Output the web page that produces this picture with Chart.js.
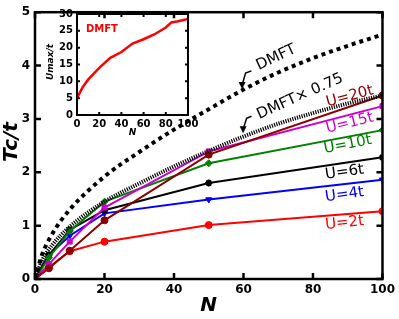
<!DOCTYPE html>
<html>
<head>
<meta charset="utf-8">
<script src="https://cdn.jsdelivr.net/npm/chart.js@4.4.0/dist/chart.umd.min.js"></script>
<style>
  html, body { margin: 0; padding: 0; background: #fff; }
  #wrap { position: relative; width: 399px; height: 319px; }
  #main { position: absolute; left: 0; top: 0; }
  #inset { position: absolute; left: 45px; top: 0; }
</style>
</head>
<body>
<div id="wrap">
  <canvas id="main" width="399" height="319"></canvas>
  <canvas id="inset" width="160" height="140"></canvas>
</div>
<script>
// main panel data
var nPts = [0, 4, 10, 20, 50, 100];
var u2 = [0, 0.22, 0.52, 0.70, 1.01, 1.27];
var u4 = [0, 0.45, 0.81, 1.23, 1.49, 1.86];
var u6 = [0, 0.45, 0.92, 1.29, 1.80, 2.28];
var u10 = [0, 0.40, 0.90, 1.45, 2.17, 2.79];
var u15 = [0, 0.28, 0.70, 1.34, 2.39, 3.24];
var u20 = [0, 0.20, 0.53, 1.10, 2.33, 3.44];

var nDmft = [0, 2, 5, 10, 20, 30, 40, 50, 60, 70, 80, 90, 100];
var dmft = [0, 0.45, 0.85, 1.30, 1.92, 2.38, 2.80, 3.18, 3.55, 3.87, 4.14, 4.37, 4.58];
var dmft75 = [0, 0.34, 0.64, 0.98, 1.45, 1.79, 2.11, 2.40, 2.67, 2.91, 3.11, 3.29, 3.44];

var xTicks = [0, 20, 40, 60, 80, 100];
var yTicks = [0, 1, 2, 3, 4, 5];

// inset data
var nInset = [0, 5, 10, 20, 30, 40, 50, 60, 70, 80, 85, 90, 100];
var uMax = [5, 8.2, 10.5, 14, 17, 18.7, 21.2, 22.5, 24, 26, 27.5, 27.8, 28.5];
var insetXTicks = [0, 20, 40, 60, 80, 100];
var insetYTicks = [0, 5, 10, 15, 20, 25, 30];

var FONT = "'DejaVu Sans', sans-serif";

function pts(xs, ys) {
    return xs.map(function (x, i) { return { x: x, y: ys[i] }; });
}

function series(label, ys, color, style, rot) {
    return {
        label: label,
        data: pts(nPts, ys),
        borderColor: color,
        backgroundColor: color,
        borderWidth: 2,
        pointStyle: style,
        rotation: rot || 0,
        pointRadius: [0, 3.5, 3.5, 3.5, 3.5, 3.5],
        pointBorderWidth: style === 'star' ? 2 : 1,
        tension: 0
    };
}

// inward ticks + thick frame
function framePlugin(id, lw, len) {
    return {
        id: id,
        afterDraw: function (chart) {
            var ctx = chart.ctx, a = chart.chartArea;
            var xs = chart.scales.x, ys = chart.scales.y;
            ctx.save();
            ctx.strokeStyle = '#000';
            ctx.lineWidth = lw;
            ctx.beginPath();
            xs.ticks.forEach(function (t) {
                var px = xs.getPixelForValue(t.value);
                ctx.moveTo(px, a.bottom); ctx.lineTo(px, a.bottom - len);
                ctx.moveTo(px, a.top); ctx.lineTo(px, a.top + len);
            });
            ys.ticks.forEach(function (t) {
                var py = ys.getPixelForValue(t.value);
                ctx.moveTo(a.left, py); ctx.lineTo(a.left + len, py);
                ctx.moveTo(a.right, py); ctx.lineTo(a.right - len, py);
            });
            ctx.stroke();
            ctx.strokeRect(a.left, a.top, a.right - a.left, a.bottom - a.top);
            ctx.restore();
        }
    };
}

function rotText(ctx, txt, x, y, deg, font, color) {
    ctx.save();
    ctx.translate(x, y);
    ctx.rotate(deg * Math.PI / 180);
    ctx.font = font;
    ctx.fillStyle = color;
    ctx.textAlign = 'center';
    ctx.textBaseline = 'middle';
    ctx.fillText(txt, 0, 0);
    ctx.restore();
}

// labels and arrows, placed in data units
var labelPlugin = {
    id: 'labels',
    afterDraw: function (chart) {
        var ctx = chart.ctx, xs = chart.scales.x, ys = chart.scales.y;
        function X(v) { return xs.getPixelForValue(v); }
        function Y(v) { return ys.getPixelForValue(v); }
        var f = '15px ' + FONT;
        rotText(ctx, 'DMFT', X(69.4), Y(4.15), -25, f, '#000');
        rotText(ctx, 'DMFT\u00d7 0.75', X(76.3), Y(3.42), -24, f, '#000');
        rotText(ctx, 'U=20t', X(90.6), Y(3.42), -15, f, '#8b0000');
        rotText(ctx, 'U=15t', X(90.6), Y(2.92), -14, f, '#cc00cc');
        rotText(ctx, 'U=10t', X(90.0), Y(2.52), -11, f, '#008000');
        rotText(ctx, 'U=6t', X(89.1), Y(2.00), -8, f, '#000');
        rotText(ctx, 'U=4t', X(89.1), Y(1.58), -8, f, '#0000ff');
        rotText(ctx, 'U=2t', X(89.1), Y(1.05), -6, f, '#ff0000');

        function arrow(x0, y0, x1, y1, x2, y2) {
            ctx.save();
            ctx.strokeStyle = '#000';
            ctx.fillStyle = '#000';
            ctx.lineWidth = 1.5;
            ctx.beginPath();
            ctx.moveTo(X(x0), Y(y0));
            ctx.lineTo(X(x1), Y(y1));
            ctx.lineTo(X(x2), Y(y2) - 4);
            ctx.stroke();
            var tx = X(x2), ty = Y(y2);
            ctx.beginPath();
            ctx.moveTo(tx, ty);
            ctx.lineTo(tx - 3.5, ty - 7);
            ctx.lineTo(tx + 3.5, ty - 7);
            ctx.closePath();
            ctx.fill();
            ctx.restore();
        }
        arrow(62.3, 3.90, 60.6, 3.86, 59.6, 3.56);
        arrow(62.3, 3.05, 60.9, 3.01, 59.9, 2.73);

        // axis titles
        var bi = 'italic bold 20px ' + FONT;
        rotText(ctx, 'Tc/t', 12, 142, -90, bi, '#000');
        rotText(ctx, 'N', (chart.chartArea.left + chart.chartArea.right) / 2, 306, 0, bi, '#000');
    }
};

var tickFont = { family: FONT, size: 12, weight: 'bold' };

new Chart(document.getElementById('main'), {
    type: 'line',
    data: {
        datasets: [
            {
                label: 'DMFT x 0.75',
                data: pts(nDmft, dmft75),
                borderColor: '#000',
                borderWidth: 4,
                borderDash: [1.2, 1.2],
                pointRadius: 0,
                cubicInterpolationMode: 'monotone'
            },
            {
                label: 'DMFT',
                data: pts(nDmft, dmft),
                borderColor: '#000',
                borderWidth: 4,
                borderDash: [4, 4],
                pointRadius: 0,
                cubicInterpolationMode: 'monotone'
            },
            series('U=20t', u20, '#8b0000', 'circle'),
            series('U=15t', u15, '#cc00cc', 'rect'),
            series('U=10t', u10, '#008000', 'rectRot'),
            series('U=6t', u6, '#000000', 'star'),
            series('U=4t', u4, '#0000ff', 'triangle', 180),
            series('U=2t', u2, '#ff0000', 'circle')
        ]
    },
    options: {
        responsive: false,
        animation: false,
        devicePixelRatio: 1,
        layout: { padding: { top: 7, right: 13, left: 0, bottom: 0 } },
        plugins: { legend: { display: false }, tooltip: { enabled: false } },
        scales: {
            x: {
                type: 'linear', min: 0, max: 100,
                afterFit: function (s) { s.height = 40; },
                afterBuildTicks: function (s) { s.ticks = xTicks.map(function (v) { return { value: v }; }); },
                grid: { display: false, drawTicks: false },
                border: { display: false },
                ticks: { font: tickFont, color: '#000', padding: 4, maxRotation: 0, autoSkip: false }
            },
            y: {
                type: 'linear', min: 0, max: 5,
                afterFit: function (s) { s.width = 35; },
                afterBuildTicks: function (s) { s.ticks = yTicks.map(function (v) { return { value: v }; }); },
                grid: { display: false, drawTicks: false },
                border: { display: false },
                ticks: { font: tickFont, color: '#000', padding: 5, autoSkip: false }
            }
        }
    },
    plugins: [framePlugin('frameMain', 2.5, 6), labelPlugin]
});

var insetLabels = {
    id: 'insetLabels',
    afterDraw: function (chart) {
        var ctx = chart.ctx, a = chart.chartArea;
        var xs = chart.scales.x, ys = chart.scales.y;
        ctx.save();
        ctx.font = 'bold 10px ' + FONT;
        ctx.fillStyle = '#ff0000';
        ctx.textBaseline = 'middle';
        ctx.fillText('DMFT', xs.getPixelForValue(8), ys.getPixelForValue(25.5));
        ctx.restore();
        rotText(ctx, 'Umax/t', 6, 62, -90, 'italic bold 9px ' + FONT, '#000');
        rotText(ctx, 'N', (a.left + a.right) / 2, 133, 0, 'italic bold 9px ' + FONT, '#000');
    }
};

var insetFont = { family: FONT, size: 10, weight: 'bold' };

new Chart(document.getElementById('inset'), {
    type: 'line',
    data: {
        datasets: [{
            label: 'Umax',
            data: pts(nInset, uMax),
            borderColor: '#ff0000',
            borderWidth: 2.5,
            pointRadius: 0,
            tension: 0
        }]
    },
    options: {
        responsive: false,
        animation: false,
        devicePixelRatio: 1,
        layout: { padding: { top: 14, right: 17, left: 0, bottom: 0 } },
        plugins: { legend: { display: false }, tooltip: { enabled: false } },
        scales: {
            x: {
                type: 'linear', min: 0, max: 100,
                afterFit: function (s) { s.height = 25; },
                afterBuildTicks: function (s) { s.ticks = insetXTicks.map(function (v) { return { value: v }; }); },
                grid: { display: false, drawTicks: false },
                border: { display: false },
                ticks: { font: insetFont, color: '#000', padding: 3, maxRotation: 0, autoSkip: false }
            },
            y: {
                type: 'linear', min: 0, max: 30,
                afterFit: function (s) { s.width = 32; },
                afterBuildTicks: function (s) { s.ticks = insetYTicks.map(function (v) { return { value: v }; }); },
                grid: { display: false, drawTicks: false },
                border: { display: false },
                ticks: { font: insetFont, color: '#000', padding: 4, autoSkip: false }
            }
        }
    },
    plugins: [framePlugin('frameInset', 2, 3), insetLabels]
});
</script>
</body>
</html>
